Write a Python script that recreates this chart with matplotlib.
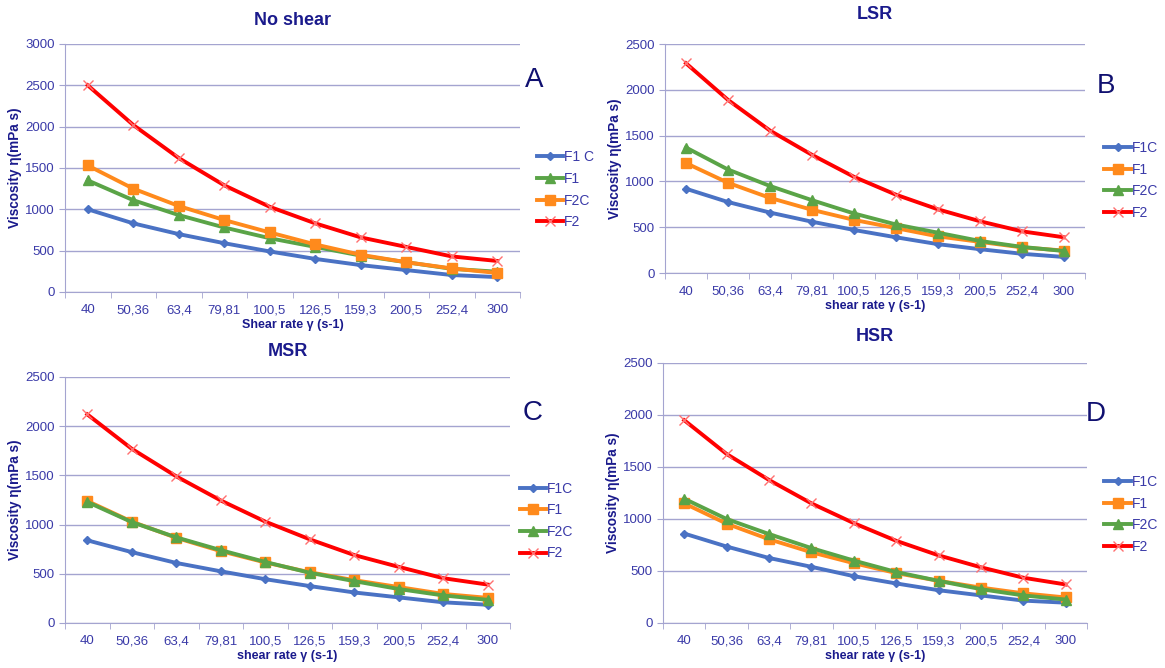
import numpy as np
import matplotlib
matplotlib.use("Agg")
import matplotlib.pyplot as plt

plt.rcParams["font.family"] = ["Liberation Sans", "DejaVu Sans"]

# eixo x (categorias de taxa de cisalhamento)
shear_labels = ["40", "50,36", "63,4", "79,81", "100,5", "126,5", "159,3", "200,5", "252,4", "300"]

# A - No shear
a_f1c = [1000, 830, 700, 590, 490, 400, 325, 265, 205, 180]
a_f1 = [1350, 1110, 930, 780, 650, 545, 440, 360, 280, 245]
a_f2c = [1530, 1250, 1040, 870, 720, 575, 450, 360, 285, 230]
a_f2 = [2500, 2020, 1620, 1290, 1030, 830, 660, 545, 430, 375]

# B - LSR
b_f1c = [920, 775, 660, 560, 470, 390, 315, 260, 210, 175]
b_f1 = [1200, 985, 820, 690, 580, 490, 400, 340, 280, 245]
b_f2c = [1370, 1130, 950, 795, 650, 530, 440, 350, 285, 240]
b_f2 = [2290, 1890, 1555, 1290, 1050, 855, 695, 565, 455, 390]

# C - MSR
c_f1c = [840, 720, 610, 525, 445, 375, 310, 260, 210, 185]
c_f1 = [1240, 1030, 865, 730, 615, 515, 435, 365, 295, 255]
c_f2c = [1230, 1025, 870, 740, 620, 510, 425, 345, 280, 235]
c_f2 = [2120, 1770, 1490, 1245, 1030, 850, 690, 570, 455, 390]

# D - HSR
d_f1c = [860, 735, 625, 540, 450, 380, 315, 265, 215, 195]
d_f1 = [1150, 955, 805, 680, 575, 480, 405, 340, 285, 245]
d_f2c = [1195, 1000, 855, 720, 600, 490, 405, 325, 265, 225]
d_f2 = [1950, 1625, 1375, 1150, 960, 790, 650, 535, 435, 370]

NAVY = "#1a1a8c"
TICK_C = "#3a3aa8"
GRID_C = "#a4a4d0"
BLUE = "#4a72c4"
GREEN = "#5aa447"
ORANGE = "#ff8a1c"
RED = "#ff0000"

style = {
    "blue": dict(color=BLUE, marker="D", markersize=4.5),
    "green": dict(color=GREEN, marker="^", markersize=7),
    "orange": dict(color=ORANGE, marker="s", markersize=7),
    "red": dict(color=RED, marker="x", markersize=7, markeredgecolor="#ff7070", markeredgewidth=1),
}


def painel(ax, title, ymax, series, xlabel, title_pad):
    x = np.arange(len(shear_labels))
    for label, vals, cor in series:
        ax.plot(x, vals, lw=2.8, label=label, **style[cor])
    ax.set_xlim(-0.5, len(shear_labels) - 0.5)
    ax.set_ylim(0, ymax)
    ax.set_yticks(np.arange(0, ymax + 1, 500))
    ax.set_xticks(x)
    ax.set_xticklabels(shear_labels)
    ax.set_xticks(np.arange(-0.5, len(shear_labels)), minor=True)
    ax.tick_params(axis="x", which="major", length=0, pad=9, labelsize=9.5, labelcolor=TICK_C)
    ax.tick_params(axis="x", which="minor", length=4, color=GRID_C)
    ax.tick_params(axis="y", length=4, color=GRID_C, labelsize=9.5, labelcolor=TICK_C)
    ax.grid(axis="y", color=GRID_C, lw=1)
    ax.set_axisbelow(True)
    for s in ["top", "right"]:
        ax.spines[s].set_visible(False)
    for s in ["left", "bottom"]:
        ax.spines[s].set_color(GRID_C)
    ax.set_title(title, fontsize=13, fontweight="bold", color=NAVY, pad=title_pad)
    ax.set_xlabel(xlabel, fontsize=9, fontweight="bold", color=NAVY, labelpad=2)
    ax.set_ylabel("Viscosity η(mPa s)", fontsize=9.8, fontweight="bold", color=NAVY, labelpad=2)


fig = plt.figure(figsize=(11.65, 6.68), dpi=100)

axA = fig.add_axes([0.0558, 0.5629, 0.3906, 0.3713])
painel(axA, "No shear", 3000,
       [("F1 C", a_f1c, "blue"), ("F1", a_f1, "green"), ("F2C", a_f2c, "orange"), ("F2", a_f2, "red")],
       "Shear rate γ (s-1)", 14)

axB = fig.add_axes([0.5708, 0.5913, 0.3605, 0.3428])
painel(axB, "LSR", 2500,
       [("F1C", b_f1c, "blue"), ("F1", b_f1, "orange"), ("F2C", b_f2c, "green"), ("F2", b_f2, "red")],
       "shear rate γ (s-1)", 18)

axC = fig.add_axes([0.0558, 0.0674, 0.382, 0.3683])
painel(axC, "MSR", 2500,
       [("F1C", c_f1c, "blue"), ("F1", c_f1, "orange"), ("F2C", c_f2c, "green"), ("F2", c_f2, "red")],
       "shear rate γ (s-1)", 15)

axD = fig.add_axes([0.5691, 0.0674, 0.364, 0.3892])
painel(axD, "HSR", 2500,
       [("F1C", d_f1c, "blue"), ("F1", d_f1, "orange"), ("F2C", d_f2c, "green"), ("F2", d_f2, "red")],
       "shear rate γ (s-1)", 16)

# legendas à direita de cada painel
leg_pos = [(axA, (0.461, 0.716)), (axB, (0.948, 0.73)), (axC, (0.446, 0.22)), (axD, (0.948, 0.23))]
for ax, (lx, ly) in leg_pos:
    leg = ax.legend(loc="center left", bbox_to_anchor=(lx, ly), bbox_transform=fig.transFigure,
                    frameon=False, fontsize=10, handlelength=1.9, handletextpad=0.05,
                    labelspacing=0.55, borderaxespad=0, borderpad=0)
    for t in leg.get_texts():
        t.set_color(TICK_C)

# letras dos paineis
for letra, (px, py) in zip("ABCD", [(534, 80), (1106, 86), (533, 413), (1096, 414)]):
    fig.text(px / 1165, 1 - py / 668, letra, fontsize=20, color="#101070", ha="center", va="center")

fig.savefig("out.png", dpi=100)
